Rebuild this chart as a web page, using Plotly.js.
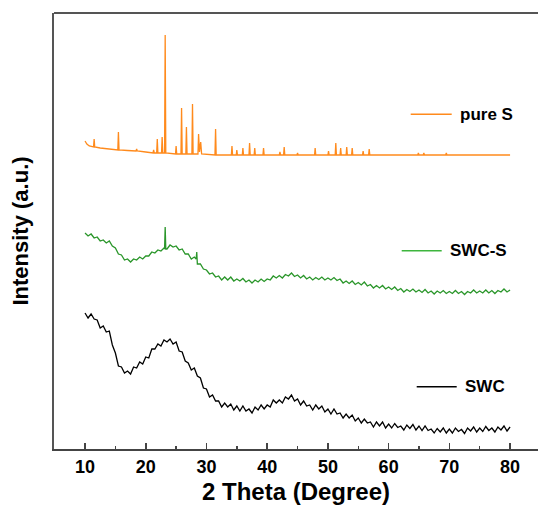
<!DOCTYPE html>
<html>
<head>
<meta charset="utf-8">
<script src="https://cdn.plot.ly/plotly-3.0.1.min.js"></script>
<style>html,body{margin:0;padding:0;background:#fff;}#chart{width:538px;height:505px;}</style>
</head>
<body>
<div id="chart"></div>
<script>
// ---- data (intensity in arbitrary units) ----
const seriesNames = ["pure S", "SWC-S", "SWC"];
const xTicks = [10, 20, 30, 40, 50, 60, 70, 80];

const thetaPureS = [10,10.3,10.7,11.2,11.4,11.5,11.6,12.5,14,15.4,15.5,15.6,17,18.4,18.5,18.6,20,21.2,21.3,21.4,21.8,21.9,22.0,22.6,22.7,22.8,23.1,23.2,23.3,24.9,25.0,25.1,25.8,25.9,26.0,26.6,26.7,26.8,27.6,27.7,27.8,28.6,28.7,28.85,29.05,29.2,31.4,31.5,31.6,34.1,34.2,34.3,34.9,35.0,35.1,35.9,36.0,36.1,37.0,37.1,37.2,37.85,37.95,38.05,39.3,39.4,39.5,42.0,42.1,42.2,42.7,42.8,42.9,44.9,45.0,45.1,47.8,47.9,48.0,50.0,50.1,50.2,51.2,51.3,51.4,52.0,52.1,52.2,53.0,53.1,53.2,53.9,54.0,54.1,55.7,55.8,55.9,56.7,56.8,56.9,60,64.8,64.9,65.0,65.7,65.8,65.9,69.4,69.5,69.6,75,80];
const intPureS = [308,305,303,302,302,310,302,301,300,299,317,299,298.5,298,300,298,297,296,299,296,296,310,296,296,312,296,296,414,296,295,303,295,295,341,295,295,322,295,295,345,295,295,315,297,307,295,294,320,294,294,303,294,294,299,294,294,301,294,294,306,294,294,301,294,294,301,294,294,297,294,294,302,294,294,296,294,294,301,294,294,298,294,294,306,294,294,301,294,294,302,294,294,301,294,294,298,294,294,300,294,294,294,296,294,294,296,294,294,296,294,294,294];

const thetaSWCS = [10,10.5,11,11.5,12,12.5,13,13.5,14,14.5,15,15.5,16,16.5,17,17.5,18,18.5,19,19.5,20,20.5,21,21.5,22,22.5,23,23.1,23.2,23.3,23.5,24,24.5,25,25.5,26,26.5,27,27.5,28,28.3,28.4,28.5,29,29.5,30,30.5,31,31.5,32,32.5,33,33.5,34,34.5,35,35.5,36,36.5,37,37.5,38,38.5,39,39.5,40,40.5,41,41.5,42,42.5,43,43.5,44,44.5,45,45.5,46,46.5,47,47.5,48,48.5,49,49.5,50,50.5,51,51.5,52,52.5,53,53.5,54,54.5,55,55.5,56,56.5,57,57.5,58,58.5,59,59.5,60,60.5,61,61.5,62,62.5,63,63.5,64,64.5,65,65.5,66,66.5,67,67.5,68,68.5,69,69.5,70,70.5,71,71.5,72,72.5,73,73.5,74,74.5,75,75.5,76,76.5,77,77.5,78,78.5,79,79.5,80];
const intSWCS = [216,213,215,211,212,208,209,206,208,203,
  201,195,194,189,190,187,190,189,192,190,
  193,193,197,196,199,198,201,200,222,200,200,204,202,
  203,199,200,195,195,190,192,190,197,185,185,180,
  179,175,176,172,173,169,172,169,172,168,
  170,168,170.5,167,169,166,169,167,170,167.5,
  170,169,173,171,173.5,171,174.5,173,176,172.5,
  174,171,173.5,170,172,169,171.5,169.5,172,169,
  171,169,171.5,168.5,170,166,168,165.5,168,164.5,
  166.5,164,167,163,164.5,161,163.5,161,163.5,160,
  162,159.5,162,158.5,160.5,157,159.5,157.5,160,157,
  159,156.5,159.5,156,158,155,158,156,158.5,155.5,
  157.5,155.5,158.5,155.5,157.5,154.5,157.5,156,159,156,
  158,156,159,156,158.5,155.5,158.5,157,160,157,
  159];

const thetaSWC = [10,10.5,11,11.5,12,12.5,13,13.5,14,14.5,15,15.5,16,16.5,17,17.5,18,18.5,19,19.5,20,20.5,21,21.5,22,22.5,23,23.5,24,24.5,25,25.5,26,26.5,27,27.5,28,28.5,29,29.5,30,30.5,31,31.5,32,32.5,33,33.5,34,34.5,35,35.5,36,36.5,37,37.5,38,38.5,39,39.5,40,40.5,41,41.5,42,42.5,43,43.5,44,44.5,45,45.5,46,46.5,47,47.5,48,48.5,49,49.5,50,50.5,51,51.5,52,52.5,53,53.5,54,54.5,55,55.5,56,56.5,57,57.5,58,58.5,59,59.5,60,60.5,61,61.5,62,62.5,63,63.5,64,64.5,65,65.5,66,66.5,67,67.5,68,68.5,69,69.5,70,70.5,71,71.5,72,72.5,73,73.5,74,74.5,75,75.5,76,76.5,77,77.5,78,78.5,79,79.5,80];
const intSWC = [136,131,135,130,129,121,123,117,118,104,
  96,83,82,76,78,75,82,81,87,85,
  92,91,100,100,105,103,109,107,110,105,
  107,98,97,88,86,79,81,73,71,61,
  60,52,54,48,48,42,46,42,45,39,
  43,38,43,38,40,36,42,39,44,40,
  44,42,49,46,49,46,52,50,54,48,
  50,44,48,43,44,39,44,40,43,37,
  40,35,40,35,36,31,35,31,34,28,
  31,26,30,26,27,22,27,23,27,21,
  25,21,25.5,21.5,23,19,24,20.5,24.5,19,
  23,18.5,23,18.5,20,16,20.5,17,21,16,
  20,16,21,17.5,19.5,15.5,21,18,22,17,
  21,17.5,22.5,18.5,21,17,22,19,23,18,
  22];

const seriesColors = ["#FF8A1C", "#2A962A", "#000000"];
const legendLineColors = ["#FF8A1C", "#3DB53D", "#000000"];

// ---- plot geometry helpers (pixel -> paper) ----
const L = 54, R = 538, T = 13, B = 449;
const px = x => (x - L) / (R - L);
const py = y => (B - y) / (B - T);

const traces = [
  {x: thetaPureS, y: intPureS, name: seriesNames[0]},
  {x: thetaSWCS, y: intSWCS, name: seriesNames[1]},
  {x: thetaSWC, y: intSWC, name: seriesNames[2]}
].map((t, i) => Object.assign(t, {
  type: "scatter", mode: "lines", showlegend: false,
  line: {color: seriesColors[i], width: 1.3}
}));

// legend samples placed like the original labels
const legendPos = [
  {x0: 410.7, x1: 451.7, y: 114.3, tx: 458},
  {x0: 401.7, x1: 441.7, y: 250.7, tx: 448},
  {x0: 416.7, x1: 456.7, y: 386.7, tx: 463}
];
const shapes = [
  {type: "line", xref: "paper", yref: "paper", x0: 0, x1: 1, y0: 1, y1: 1,
   line: {color: "#555", width: 2}}
];
const annotations = [];
legendPos.forEach((p, i) => {
  shapes.push({type: "line", xref: "paper", yref: "paper",
    x0: px(p.x0), x1: px(p.x1), y0: py(p.y), y1: py(p.y),
    line: {color: legendLineColors[i], width: 1.6}});
  annotations.push({xref: "paper", yref: "paper", x: px(p.tx), y: py(p.y),
    xanchor: "left", yanchor: "middle", showarrow: false, text: "<b>" + seriesNames[i] + "</b>",
    font: {family: "Liberation Sans, Arial, sans-serif", size: 17, color: "#000"}});
});

const layout = {
  width: 538, height: 505,
  margin: {l: L, r: 538 - R, t: T, b: 505 - B, pad: 0},
  paper_bgcolor: "#fff", plot_bgcolor: "#fff",
  showlegend: false,
  font: {family: "Liberation Sans, Arial, sans-serif", color: "#000"},
  xaxis: {
    range: [4.89, 84.6], tickvals: xTicks, ticktext: xTicks.map(v => "<b>" + v + "</b>"),
    ticks: "inside", ticklen: 6, tickwidth: 1.5, tickcolor: "#444",
    minor: {dtick: 5, tick0: 5, ticks: "inside", ticklen: 3, tickwidth: 1.5, tickcolor: "#444", showgrid: false},
    showline: true, linecolor: "#444", linewidth: 2, showgrid: false, zeroline: false,
    tickfont: {size: 18, color: "#000"},
    title: {text: "<b>2 Theta (Degree)</b>", font: {size: 24, color: "#000"}, standoff: 9},
    automargin: false
  },
  yaxis: {
    range: [0, 436], showticklabels: false, ticks: "", showgrid: false, zeroline: false,
    showline: true, linecolor: "#555", linewidth: 2,
    title: {text: "<b>Intensity (a.u.)</b>", font: {size: 22, color: "#000"}, standoff: 17},
    automargin: false
  },
  shapes: shapes,
  annotations: annotations
};

Plotly.newPlot("chart", traces, layout, {staticPlot: true, displayModeBar: false});
</script>
</body>
</html>
